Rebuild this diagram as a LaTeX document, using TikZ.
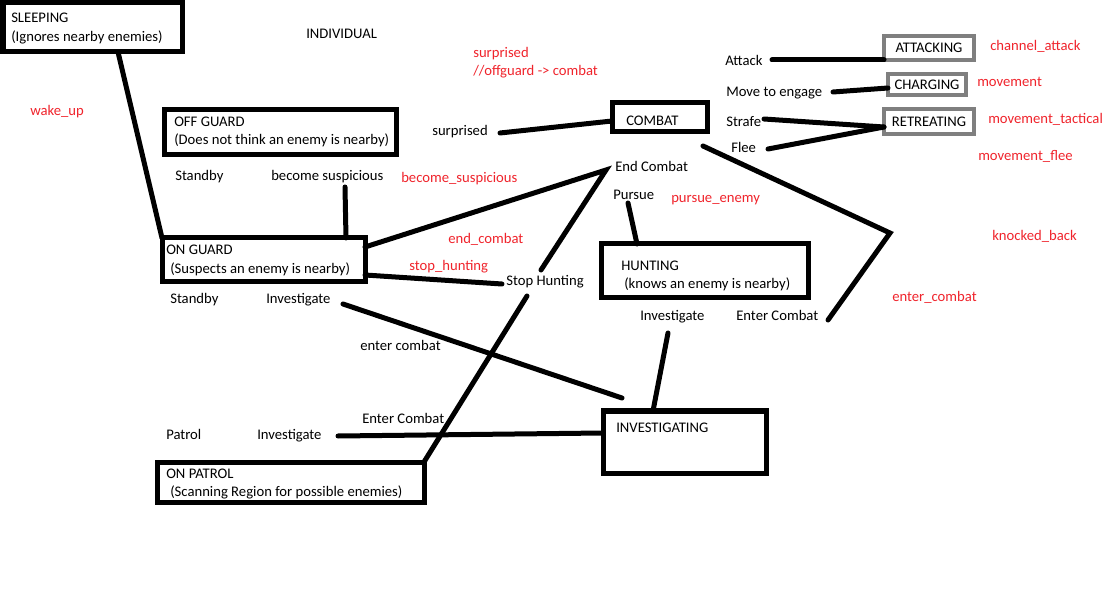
\documentclass[tikz,border=0pt]{standalone}
\usepackage{fontspec}
\setmainfont{Carlito}
\definecolor{pred}{RGB}{240,36,44}
\definecolor{pgray}{RGB}{127,127,127}
\begin{document}
\begin{tikzpicture}[x=0.75pt,y=-0.75pt,
  txt/.style={anchor=base west, inner sep=0pt, yshift=-0.75pt, font=\fontsize{11pt}{13pt}\selectfont},
  rtxt/.style={txt, text=pred},
  bbox/.style={draw=black, line width=3.75pt, inner sep=0pt, outer sep=0pt, anchor=north west},
  gbox/.style={draw=pgray, line width=3pt, inner sep=0pt, outer sep=0pt, anchor=north west, font=\fontsize{11pt}{13pt}\selectfont},
  wire/.style={line width=3.75pt, line cap=round}]
\fill[white] (0,0) rectangle (1118,602);
\useasboundingbox (0,0) rectangle (1118,602);

% boxes
\node[bbox, minimum width=179*0.75pt, minimum height=49*0.75pt] (sleep) at (3,3) {};
\node[bbox, minimum width=232*0.75pt, minimum height=45*0.75pt] (offg) at (164,110) {};
\node[bbox, minimum width=95*0.75pt, minimum height=29*0.75pt] (combat) at (612,103) {};
\node[bbox, minimum width=203*0.75pt, minimum height=44*0.75pt] (ong) at (162,238) {};
\node[bbox, minimum width=207*0.75pt, minimum height=54*0.75pt] (hunt) at (601,244) {};
\node[bbox, minimum width=163*0.75pt, minimum height=62*0.75pt] (invest) at (603,411) {};
\node[bbox, minimum width=267*0.75pt, minimum height=40*0.75pt] (opatrol) at (157,462) {};
\node[gbox, minimum width=90*0.75pt, minimum height=24*0.75pt] (att) at (884,36) {ATTACKING};
\node[gbox, minimum width=78*0.75pt, minimum height=21*0.75pt] (chg) at (888,74) {CHARGING};
\node[gbox, minimum width=90*0.75pt, minimum height=25*0.75pt] (ret) at (884,109) {RETREATING};

% box texts
\node[txt] (sl1) at (11,22) {SLEEPING};
\node[txt] (sl2) at (11,41) {(Ignores nearby enemies)};
\node[txt] (of1) at (174,126) {OFF GUARD};
\node[txt] (of2) at (174,144) {(Does not think an enemy is nearby)};
\node[txt] (cb1) at (626,125) {COMBAT};
\node[txt] (og1) at (166,254) {ON GUARD};
\node[txt] (og2) at (170,273) {(Suspects an enemy is nearby)};
\node[txt] (hu1) at (621,270) {HUNTING};
\node[txt] (hu2) at (624,288) {(knows an enemy is nearby)};
\node[txt] (iv1) at (616,431) {INVESTIGATING};
\node[txt] (op1) at (166,477) {ON PATROL};
\node[txt] (op2) at (170,495) {(Scanning Region for possible enemies)};

% black labels
\node[txt] (indiv) at (306,38) {INDIVIDUAL};
\node[txt] (surp) at (432,135) {surprised};
\node[txt] (attack) at (725,65) {Attack};
\node[txt] (move) at (726,96) {Move to engage};
\node[txt] (strafe) at (726,126) {Strafe};
\node[txt] (flee) at (731,152) {Flee};
\node[txt] (stb1) at (175,180) {Standby};
\node[txt] (bsus) at (271,180) {become suspicious};
\node[txt] (endc) at (615,171) {End Combat};
\node[txt] (pursue) at (613,199) {Pursue};
\node[txt] (sthunt) at (506,285) {Stop Hunting};
\node[txt] (stb2) at (170,303) {Standby};
\node[txt] (inv1) at (266,303) {Investigate};
\node[txt] (inv2) at (640,320) {Investigate};
\node[txt] (enc1) at (736,320) {Enter Combat};
\node[txt] (enc2) at (360,350) {enter combat};
\node[txt] (enc3) at (362,422) {Enter Combat};
\node[txt] (patrol) at (166,439) {Patrol};
\node[txt] (inv3) at (257,439) {Investigate};

% red labels
\node[rtxt] (r1) at (473,57) {surprised};
\node[rtxt] (r2) at (473,75) {//offguard -> combat};
\node[rtxt] (r3) at (30,115) {wake\_up};
\node[rtxt] (r4) at (990,50) {channel\_attack};
\node[rtxt] (r5) at (977,86) {movement};
\node[rtxt] (r6) at (988,123) {movement\_tactical};
\node[rtxt] (r7) at (978,160) {movement\_flee};
\node[rtxt] (r8) at (401,182) {become\_suspicious};
\node[rtxt] (r9) at (671,202) {pursue\_enemy};
\node[rtxt] (r10) at (992,240) {knocked\_back};
\node[rtxt] (r11) at (448,243) {end\_combat};
\node[rtxt] (r12) at (409,270) {stop\_hunting};
\node[rtxt] (r13) at (892,301) {enter\_combat};

% junctions
\coordinate (ecapex) at (606,170);
\coordinate (kbapex) at (890,233);

% connectors
\draw[wire] (118,0 |- sleep.south) -- (ong.north west);
\draw[wire] (345,187) -- (346,0 |- ong.north);
\draw[wire] (ong.east |- 0,247) -- (ecapex) -- (541,270);
\draw[wire] (ong.east |- 0,275) -- (502,284);
\draw[wire] (527,296) -- (opatrol.north east);
\draw[wire] (343,304) -- (622,398);
\draw[wire] (338,436) -- (invest.west |- 0,433);
\draw[wire] (500,133) -- (combat.west |- 0,121);
\draw[wire] (703,146) -- (kbapex) -- (828,320);
\draw[wire] (628,203) -- (637,0 |- hunt.north);
\draw[wire] (668,333) -- (653,0 |- invest.north);
\draw[wire] (772,60) -- (att.south west);
\draw[wire] (833,92) -- (chg.west |- 0,88);
\draw[wire] (764,119) -- (ret.west |- 0,127);
\draw[wire] (768,149) -- (ret.west |- 0,127);
\end{tikzpicture}
\end{document}
